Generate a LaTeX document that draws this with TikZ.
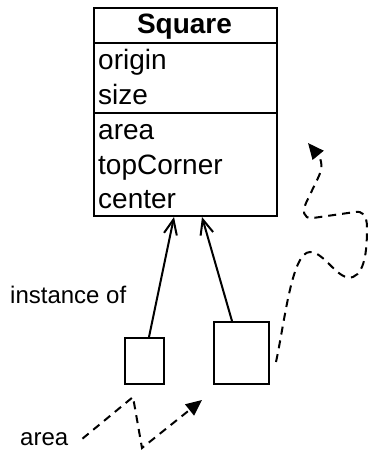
\documentclass[tikz,border=0pt]{standalone}
\usepackage{fontspec}
\setmainfont{Liberation Sans}
\usetikzlibrary{arrows.meta}
\begin{document}
\begin{tikzpicture}[x=1pt,y=-1pt,
  boxline/.style={draw, line width=2pt},
  memb/.style={inner sep=0pt, anchor=base west, font=\fontsize{28}{34}\selectfont},
  lbl/.style={inner sep=0pt, anchor=base west, font=\fontsize{24}{29}\selectfont},
  inst/.style={line width=2pt, -{Straight Barb[length=15pt,width=13pt,line width=2pt]}},
  msg/.style={line width=2pt, dash pattern=on 8pt off 6pt, -{Triangle[length=16pt,width=14pt]}}]
\useasboundingbox (0,0) rectangle (368,450);
% class box
\node[boxline, minimum width=183pt, minimum height=208pt, anchor=north west, inner sep=0pt] (cls) at (93,7) {};
\draw[line width=2pt] (cls.west |- 0,43) coordinate (h1) -- (cls.east |- 0,43) coordinate (h2);
\draw[line width=2pt] (cls.west |- 0,113) coordinate (s1) -- (cls.east |- 0,113) coordinate (s2);
\node[inner sep=0pt, anchor=base, font=\fontsize{28}{34}\selectfont\bfseries] (title) at (184.5,33) {Square};
\node[memb] (origin) at (98,69) {origin};
\node[memb] (size) at (98,104) {size};
\node[memb] (area) at (98,139) {area};
\node[memb] (topc) at (98,174) {topCorner};
\node[memb] (center) at (98,208) {center};
% instances
\node[boxline, minimum width=39pt, minimum height=46pt, anchor=north west, inner sep=0pt] (small) at (124,337) {};
\node[boxline, minimum width=55pt, minimum height=62pt, anchor=north west, inner sep=0pt] (big) at (213,321) {};
\draw[inst] ([xshift=4.5pt]small.north) -- ([xshift=-11.5pt]cls.south);
\draw[inst] ([xshift=-9.5pt]big.north) -- ([xshift=16.5pt]cls.south);
% labels
\node[lbl] (instof) at (10,303) {instance of};
\node[lbl] (arealbl) at (20,445) {area};
% message arrows
\coordinate (m1) at (133,397);
\coordinate (m2) at (142,448);
\coordinate (m3) at (202,400);
\draw[msg] ([xshift=14pt,yshift=0pt]arealbl.east) -- (m1) -- (m2) -- (m3);
\coordinate (w0) at (276,362);
\coordinate (w1) at (310,252);
\coordinate (w2) at (353,277);
\coordinate (w3) at (308,143);
\draw[msg] (w0) .. controls (285,320) and (292,252) .. (w1)
  .. controls (325,252) and (338,282) .. (w2)
  .. controls (366,272) and (367,245) .. (367,228)
  .. controls (367,214) and (362,211) .. (355,212)
  -- (313,218) .. controls (302,219) and (303,210) .. (306,203)
  -- (318,178) .. controls (323,168) and (322,160) .. (w3);
\end{tikzpicture}
\end{document}
